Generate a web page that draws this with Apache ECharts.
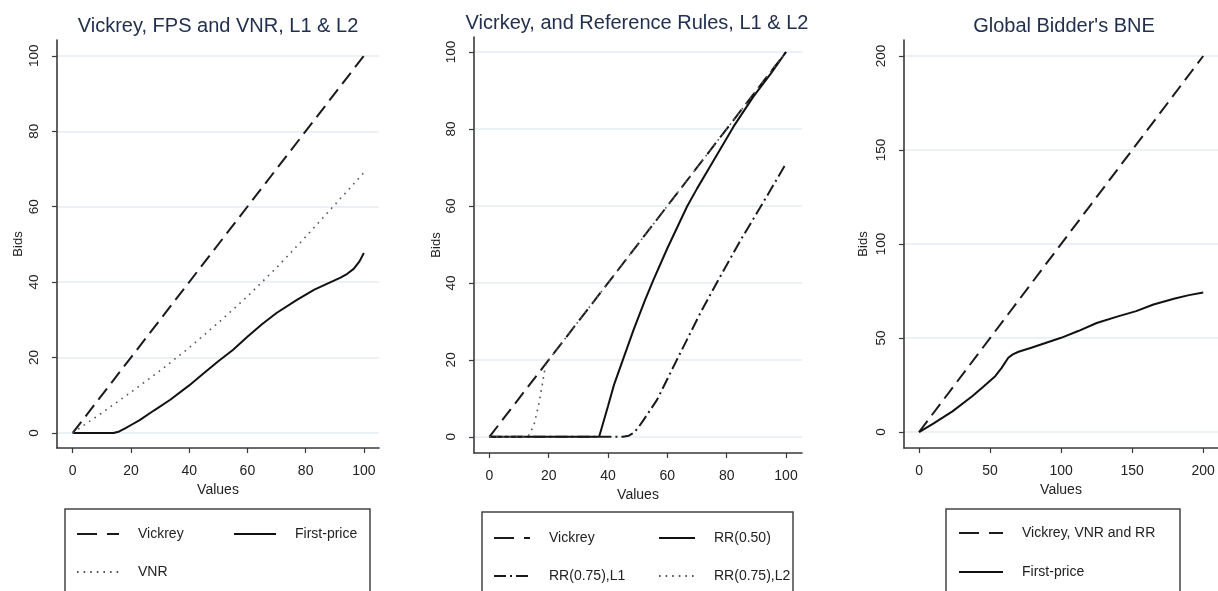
<!DOCTYPE html>
<html>
<head>
<meta charset="utf-8">
<script src="https://cdn.jsdelivr.net/npm/echarts@6/dist/echarts.min.js"></script>
<style>
  html, body { margin: 0; padding: 0; background: #fff; }
  #main { width: 1218px; height: 591px; }
</style>
</head>
<body>
<div id="main"></div>
<script>
var myChart = echarts.init(document.getElementById('main'));

// tick labels
var ticks100 = [0, 20, 40, 60, 80, 100];
var ticks200 = [0, 50, 100, 150, 200];

// panel 1: Vickrey, FPS and VNR
var p1VickreyX = [0, 100];
var p1VickreyY = [0, 100];
var p1VnrX = [0, 10, 20, 30, 40, 50, 60, 70, 80, 90, 100];
var p1VnrY = [0, 5.3, 10.8, 16.5, 22.6, 29.2, 36.2, 43.8, 52, 60.5, 69];
var p1FpX = [0, 14, 16, 18, 20.5, 23, 28, 33.5, 40, 45, 50, 55, 60, 65, 70, 77, 83, 88.6, 92, 94.3, 96.5, 98.5, 100];
var p1FpY = [0, 0, 0.4, 1.2, 2.3, 3.4, 6, 8.8, 12.6, 15.8, 19, 22, 25.5, 28.8, 31.8, 35.3, 38, 40, 41.2, 42.2, 43.5, 45.5, 47.7];

// panel 2: Vickrey and reference rules
var p2VickreyX = [0, 100];
var p2VickreyY = [0, 100];
var p2Rr50X = [0, 37, 40, 42, 45, 48.6, 52.5, 55.3, 60, 66.6, 70, 75, 82.3, 89, 95, 100];
var p2Rr50Y = [0, 0, 8, 13.5, 20, 27.8, 35.6, 40.8, 49, 59.8, 64.5, 71, 80.6, 88.4, 94.5, 100];
var p2L1X = [0, 45, 47, 48.6, 50, 52, 56.5, 63.2, 71, 77.2, 85, 92, 100];
var p2L1Y = [0, 0, 0.3, 1, 2.2, 4.4, 9.6, 20, 32, 40.8, 51.5, 60.5, 71];
var p2L2X = [0, 13, 15, 16.5, 17.7, 19, 100];
var p2L2Y = [0, 0, 3, 8, 13, 19, 100];

// panel 3: global bidder
var p3VickreyX = [0, 200];
var p3VickreyY = [0, 200];
var p3FpX = [0, 10, 23.5, 37.4, 45, 53.6, 58, 62.8, 66, 70, 79, 90, 100, 112, 125, 140, 152.8, 165, 180, 190, 200];
var p3FpY = [0, 4.5, 11, 19, 24, 29.7, 34, 39.5, 41.3, 42.7, 44.8, 47.6, 50.1, 53.7, 58, 61.5, 64.3, 67.8, 71, 72.8, 74.2];

function zip(xs, ys) {
  return xs.map(function (x, i) { return [x, ys[i]]; });
}

var font = 'Liberation Sans, Arial, Helvetica, sans-serif';
var axisColor = '#3a3a3a';
var textColor = '#222';
var gridColor = '#e4edf0';

function xAxisFor(gi, min, max, ticks) {
  return {
    type: 'value', gridIndex: gi, min: min, max: max,
    name: 'Values', nameLocation: 'middle', nameGap: 34,
    nameTextStyle: { fontFamily: font, fontSize: 14, color: textColor },
    axisLine: { onZero: false, lineStyle: { color: axisColor, width: 1.6 } },
    axisTick: { customValues: ticks, length: 5, lineStyle: { color: axisColor, width: 1.2 } },
    axisLabel: { customValues: ticks, fontFamily: font, fontSize: 14, color: textColor, margin: 16 },
    splitLine: { show: false }
  };
}

function yAxisFor(gi, min, max, ticks, nameGap) {
  return {
    type: 'value', gridIndex: gi, min: min, max: max,
    name: 'Bids', nameLocation: 'middle', nameGap: nameGap, nameRotate: 90,
    nameTextStyle: { fontFamily: font, fontSize: 13, color: textColor },
    axisLine: { show: true, onZero: false, lineStyle: { color: axisColor, width: 1.6 } },
    axisTick: { show: true, customValues: ticks, length: 5, lineStyle: { color: axisColor, width: 1.2 } },
    axisLabel: { customValues: ticks, rotate: 90, fontFamily: font, fontSize: 13.5, color: textColor, margin: 16 },
    splitLine: { show: true, lineStyle: { color: gridColor, width: 1.6 } }
  };
}

function line(name, gi, data, lineStyle) {
  return {
    name: name, type: 'line', xAxisIndex: gi, yAxisIndex: gi,
    data: data, showSymbol: false, symbol: 'none',
    lineStyle: lineStyle, itemStyle: { color: lineStyle.color },
    z: 3
  };
}

var dashed = { color: '#1a1a1a', width: 2, type: [14, 7] };
var solid = { color: '#111', width: 2, type: 'solid' };
var dotted = { color: '#555', width: 1.6, type: [1.6, 5] };
var dashDot = { color: '#1a1a1a', width: 2, type: [12, 4, 2, 4] };

var titleStyle = { fontFamily: font, fontSize: 20, fontWeight: 'normal', color: '#22304f' };
var legendText = { fontFamily: font, fontSize: 14, color: textColor, padding: [0, 0, 0, 14], lineHeight: 14 };
// hide the marker dot that line legends draw, keep the line sample
var legendMarker = { opacity: 0 };
var legendDash = { type: [20, 10] };

option = {
  animation: false,
  backgroundColor: '#fff',
  title: [
    { text: 'Vickrey, FPS and VNR, L1 & L2', left: 213, top: 11, textAlign: 'center', textStyle: titleStyle },
    { text: 'Vicrkey, and Reference Rules, L1 & L2', left: 632, top: 8, textAlign: 'center', textStyle: titleStyle },
    { text: "Global Bidder's BNE", left: 1059, top: 11, textAlign: 'center', textStyle: titleStyle }
  ],
  grid: [
    { left: 57, top: 40, width: 322, height: 408 },
    { left: 474, top: 37, width: 328, height: 416 },
    { left: 904, top: 40, width: 319, height: 408 }
  ],
  xAxis: [
    xAxisFor(0, -5.4, 105.2, ticks100),
    xAxisFor(1, -5.2, 105.4, ticks100),
    xAxisFor(2, -10.6, 210.4, ticks200)
  ],
  yAxis: [
    yAxisFor(0, -4, 104.2, ticks100, 32),
    yAxisFor(1, -4.2, 103.9, ticks100, 25),
    yAxisFor(2, -8.5, 208.5, ticks200, 34)
  ],
  legend: [
    {
      data: [{ name: 'Vickrey', lineStyle: legendDash }, 'First-price', 'VNR'],
      itemStyle: legendMarker,
      left: 76, top: 527, width: 300, orient: 'horizontal',
      itemWidth: 42, itemHeight: 14, itemGap: 24, padding: 0,
      textStyle: Object.assign({ width: 71 }, legendText)
    },
    {
      data: [{ name: 'Vickrey', lineStyle: legendDash }, 'RR(0.50)', 'RR(0.75),L1', 'RR(0.75),L2'],
      itemStyle: legendMarker,
      left: 493, top: 531, width: 330, orient: 'horizontal',
      itemWidth: 36, itemHeight: 14, itemGap: 24, padding: 0,
      textStyle: Object.assign({ width: 85 }, legendText)
    },
    {
      data: [{ name: 'Vickrey, VNR and RR', lineStyle: legendDash }, 'First-price'],
      itemStyle: legendMarker,
      left: 958, top: 526, orient: 'vertical',
      itemWidth: 44, itemHeight: 14, itemGap: 25, padding: 0,
      textStyle: legendText
    }
  ],
  graphic: [
    { type: 'rect', shape: { x: 65, y: 509, width: 305, height: 120 }, style: { fill: 'none', stroke: '#444', lineWidth: 1.5 } },
    { type: 'rect', shape: { x: 482, y: 512, width: 311, height: 120 }, style: { fill: 'none', stroke: '#444', lineWidth: 1.5 } },
    { type: 'rect', shape: { x: 946, y: 509, width: 234, height: 120 }, style: { fill: 'none', stroke: '#444', lineWidth: 1.5 } }
  ],
  series: [
    line('Vickrey', 0, zip(p1VickreyX, p1VickreyY), dashed),
    line('First-price', 0, zip(p1FpX, p1FpY), solid),
    line('VNR', 0, zip(p1VnrX, p1VnrY), dotted),

    line('Vickrey', 1, zip(p2VickreyX, p2VickreyY), dashed),
    line('RR(0.50)', 1, zip(p2Rr50X, p2Rr50Y), solid),
    line('RR(0.75),L1', 1, zip(p2L1X, p2L1Y), dashDot),
    line('RR(0.75),L2', 1, zip(p2L2X, p2L2Y), dotted),

    line('Vickrey, VNR and RR', 2, zip(p3VickreyX, p3VickreyY), dashed),
    line('First-price', 2, zip(p3FpX, p3FpY), solid)
  ]
};

myChart.setOption(option);
</script>
</body>
</html>
